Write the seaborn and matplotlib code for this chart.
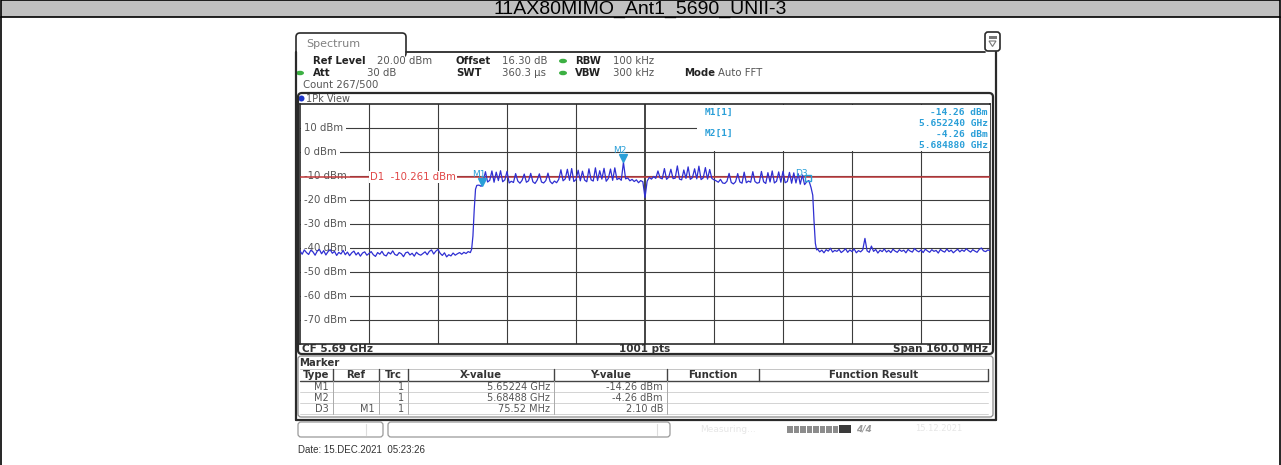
import matplotlib
matplotlib.use("Agg")
import matplotlib.pyplot as plt
import seaborn as sns
import pandas as pd
from matplotlib.patches import Rectangle, FancyBboxPatch, Ellipse, Circle, Polygon

# ---------------- data ----------------
title = "11AX80MIMO_Ant1_5690_UNII-3"
y_tick_dbm = [10, 0, -10, -20, -30, -40, -50, -60, -70]
x_grid_mhz = [5626, 5642, 5658, 5674, 5690, 5706, 5722, 5738, 5754]
d1_level = -10.261

noise_lo_mhz = [5610.0, 5610.5, 5611.0, 5611.5, 5612.0, 5612.5, 5613.0, 5613.5, 5614.0, 5614.5,
                5615.0, 5615.5, 5616.0, 5616.5, 5617.0, 5617.5, 5618.0, 5618.5, 5619.0, 5619.5,
                5620.0, 5620.5, 5621.0, 5621.5, 5622.0, 5622.5, 5623.0, 5623.5, 5624.0, 5624.5,
                5625.0, 5625.5, 5626.0, 5626.5, 5627.0, 5627.5, 5628.0, 5628.5, 5629.0, 5629.5,
                5630.0, 5630.5, 5631.0, 5631.5, 5632.0, 5632.5, 5633.0, 5633.5, 5634.0, 5634.5,
                5635.0, 5635.5, 5636.0, 5636.5, 5637.0, 5637.5, 5638.0, 5638.5, 5639.0, 5639.5,
                5640.0, 5640.5, 5641.0, 5641.5, 5642.0, 5642.5, 5643.0, 5643.5, 5644.0, 5644.5,
                5645.0, 5645.5, 5646.0, 5646.5, 5647.0, 5647.5, 5648.0, 5648.5, 5649.0, 5649.5]
noise_lo_dbm = [-41.2, -42.6, -40.8, -41.9, -42.7, -40.9, -41.6, -43.0, -41.3, -40.6,
                -42.4, -41.1, -42.9, -41.5, -40.7, -42.2, -41.4, -43.1, -41.8, -42.5,
                -41.0, -42.8, -41.7, -43.2, -42.0, -41.3, -42.9, -41.9, -43.4, -42.1,
                -41.6, -43.0, -42.3, -41.5, -42.8, -43.5, -41.9, -42.6, -41.4, -42.9,
                -43.3, -41.8, -42.5, -41.2, -42.7, -43.1, -41.9, -42.4, -43.6, -42.0,
                -41.7, -42.9, -42.2, -43.4, -41.8, -42.6, -43.0, -42.3, -41.6, -42.8,
                -41.4, -40.8, -42.5, -41.3, -40.6, -42.2, -43.1, -42.0, -43.7, -42.8,
                -43.3, -42.1, -43.0, -42.4, -41.9, -42.6, -41.8, -42.3, -41.5, -41.9]
edge_lo_mhz = [5649.8, 5650.1, 5650.4, 5650.7, 5651.0]
edge_lo_dbm = [-40.5, -35.0, -24.0, -15.5, -13.9]

band_mhz = [5651.5, 5652.0, 5652.5, 5653.0, 5653.5, 5654.0, 5654.5, 5655.0, 5655.5, 5656.0,
            5656.5, 5657.0, 5657.5, 5658.0, 5658.5, 5659.0, 5659.5, 5660.0, 5660.5, 5661.0,
            5661.5, 5662.0, 5662.5, 5663.0, 5663.5, 5664.0, 5664.5, 5665.0, 5665.5, 5666.0,
            5666.5, 5667.0, 5667.5, 5668.0, 5668.5, 5669.0, 5669.5, 5670.0, 5670.5, 5671.0,
            5671.5, 5672.0, 5672.5, 5673.0, 5673.5, 5674.0, 5674.5, 5675.0, 5675.5, 5676.0,
            5676.5, 5677.0, 5677.5, 5678.0, 5678.5, 5679.0, 5679.5, 5680.0, 5680.5, 5681.0,
            5681.5, 5682.0, 5682.5, 5683.0, 5683.5, 5684.0, 5684.5, 5685.0, 5685.5, 5686.0,
            5686.5, 5687.0, 5687.5, 5688.0, 5688.5, 5689.0, 5689.5, 5690.0, 5690.5, 5691.0,
            5691.5, 5692.0, 5692.5, 5693.0, 5693.5, 5694.0, 5694.5, 5695.0, 5695.5, 5696.0,
            5696.5, 5697.0, 5697.5, 5698.0, 5698.5, 5699.0, 5699.5, 5700.0, 5700.5, 5701.0,
            5701.5, 5702.0, 5702.5, 5703.0, 5703.5, 5704.0, 5704.5, 5705.0, 5705.5, 5706.0,
            5706.5, 5707.0, 5707.5, 5708.0, 5708.5, 5709.0, 5709.5, 5710.0, 5710.5, 5711.0,
            5711.5, 5712.0, 5712.5, 5713.0, 5713.5, 5714.0, 5714.5, 5715.0, 5715.5, 5716.0,
            5716.5, 5717.0, 5717.5, 5718.0, 5718.5, 5719.0, 5719.5, 5720.0, 5720.5, 5721.0,
            5721.5, 5722.0, 5722.5, 5723.0, 5723.5, 5724.0, 5724.5, 5725.0, 5725.5, 5726.0,
            5726.5, 5727.0, 5727.5, 5728.0, 5728.5]
band_dbm = [-13.8, -14.3, -12.0, -8.2, -12.5, -11.8, -7.9, -12.6, -8.4, -11.9,
            -7.8, -12.4, -11.6, -8.1, -12.9, -12.2, -12.7, -9.0, -12.1, -13.0,
            -11.8, -9.2, -12.6, -12.0, -8.9, -12.4, -13.1, -11.7, -9.1, -12.5,
            -12.9, -11.9, -8.8, -12.3, -13.2, -12.1, -12.8, -11.4, -7.4, -12.0,
            -11.2, -7.2, -11.8, -6.9, -12.3, -11.5, -7.6, -12.0, -8.0, -11.7,
            -12.4, -7.0, -11.6, -12.1, -6.6, -11.9, -7.8, -11.3, -6.8, -12.2,
            -11.0, -7.1, -11.8, -6.6, -11.5, -10.9, -11.8, -4.3, -11.2, -10.8,
            -12.0, -11.4, -12.3, -11.6, -12.8, -11.9, -12.4, -19.0, -12.1, -10.6,
            -11.3, -10.2, -11.0, -7.9, -10.8, -11.2, -6.9, -11.4, -10.5, -7.2,
            -11.1, -10.9, -5.8, -11.3, -11.6, -7.5, -11.0, -6.2, -11.4, -10.7,
            -7.0, -11.2, -5.9, -11.5, -10.8, -6.5, -11.3, -7.3, -11.0, -11.6,
            -12.0, -12.6, -11.4, -12.9, -13.1, -12.2, -8.9, -12.7, -13.3, -12.4,
            -9.0, -12.5, -13.0, -8.4, -12.8, -12.1, -12.6, -8.2, -12.3, -13.0,
            -12.7, -8.1, -12.4, -13.1, -8.6, -12.5, -7.9, -12.9, -12.2, -8.3,
            -12.6, -8.0, -12.8, -12.3, -8.5, -13.0, -8.7, -12.9, -9.0, -13.4,
            -9.6, -13.6, -12.4, -11.9, -14.8]
edge_hi_mhz = [5728.9, 5729.2, 5729.5, 5729.8]
edge_hi_dbm = [-18.0, -29.0, -38.0, -40.8]
noise_hi_mhz = [5730.0, 5730.5, 5731.0, 5731.5, 5732.0, 5732.5, 5733.0, 5733.5, 5734.0, 5734.5,
                5735.0, 5735.5, 5736.0, 5736.5, 5737.0, 5737.5, 5738.0, 5738.5, 5739.0, 5739.5,
                5740.0, 5740.5, 5741.0, 5741.5, 5742.0, 5742.5, 5743.0, 5743.5, 5744.0, 5744.5,
                5745.0, 5745.5, 5746.0, 5746.5, 5747.0, 5747.5, 5748.0, 5748.5, 5749.0, 5749.5,
                5750.0, 5750.5, 5751.0, 5751.5, 5752.0, 5752.5, 5753.0, 5753.5, 5754.0, 5754.5,
                5755.0, 5755.5, 5756.0, 5756.5, 5757.0, 5757.5, 5758.0, 5758.5, 5759.0, 5759.5,
                5760.0, 5760.5, 5761.0, 5761.5, 5762.0, 5762.5, 5763.0, 5763.5, 5764.0, 5764.5,
                5765.0, 5765.5, 5766.0, 5766.5, 5767.0, 5767.5, 5768.0, 5768.5, 5769.0, 5769.5, 5770.0]
noise_hi_dbm = [-40.4, -41.6, -40.9, -42.0, -40.7, -41.3, -40.1, -41.7, -41.0, -41.4,
                -40.6, -41.9, -41.2, -40.3, -41.8, -40.8, -41.5, -40.4, -42.0, -41.1,
                -41.6, -40.7, -36.0, -41.2, -41.8, -39.2, -41.4, -40.6, -42.1, -40.9,
                -41.5, -40.4, -41.7, -41.0, -41.9, -40.5, -41.3, -41.8, -40.7, -41.4,
                -40.9, -42.0, -40.6, -41.3, -41.7, -40.2, -41.1, -41.6, -40.8, -41.9,
                -40.5, -41.2, -41.8, -40.7, -41.4, -41.0, -42.1, -40.6, -41.3, -41.7,
                -40.4, -41.5, -40.9, -42.0, -41.2, -40.5, -41.6, -40.8, -41.4, -40.3,
                -41.1, -41.7, -40.7, -41.3, -41.8, -40.6, -40.0, -41.2, -41.5, -40.8, -41.1]

marker_names = ["M1", "M2"]
marker_mhz = [5652.24, 5684.88]
marker_dbm = [-14.26, -4.26]
d3_mhz = 5727.76
d3_dbm = -12.16

table_cols = ["Type", "Ref", "Trc", "X-value", "Y-value", "Function", "Function Result"]
table_rows = [["M1", "", "1", "5.65224 GHz", "-14.26 dBm"],
              ["M2", "", "1", "5.68488 GHz", "-4.26 dBm"],
              ["D3", "M1", "1", "75.52 MHz", "2.10 dB"]]

# ---------------- figure ----------------
sns.set_style("white")
plt.rcParams['font.family'] = ['DejaVu Sans']

W, H = 1281, 465
fig = plt.figure(figsize=(W / 100, H / 100), dpi=100)
fig.patch.set_facecolor("white")

bg = fig.add_axes([0, 0, 1, 1], zorder=0)
bg.set_xlim(0, W); bg.set_ylim(H, 0); bg.axis("off")

X0, X1, Y0, Y1 = 300, 990, 104, 344
ax = fig.add_axes([X0 / W, 1 - Y1 / H, (X1 - X0) / W, (Y1 - Y0) / H], zorder=1)

ov = fig.add_axes([0, 0, 1, 1], zorder=2)
ov.set_xlim(0, W); ov.set_ylim(H, 0); ov.axis("off"); ov.patch.set_alpha(0)

DARK = "#2a2a2a"
GREY_TXT = "#555555"
BLUE_M = "#2a9fd8"

# page frame + title
bg.add_patch(Rectangle((0.5, 0.5), W - 1.5, 17, facecolor="#c0c0c0", edgecolor="black", lw=1.2))
bg.plot([0.5, 0.5], [17, H], color="black", lw=1.2)
bg.plot([W - 1, W - 1], [17, H], color="black", lw=1.2)
bg.text(640, 14.2, title, ha="center", va="baseline", fontsize=14,
        family=["Liberation Sans", "DejaVu Sans"], color="black")

# screen outline: tab
tab = FancyBboxPatch((296, 33), 110, 24, boxstyle="round,pad=0,rounding_size=4",
                     facecolor="white", edgecolor=DARK, lw=1.2)
bg.add_patch(tab)
bg.add_patch(Rectangle((297, 52.5), 108, 6, facecolor="white", edgecolor="none"))
bg.text(306, 44, "Spectrum", fontsize=8, color="#808080", va="center")
bg.plot([406, 985], [52.5, 52.5], color=DARK, lw=1.3)
bg.add_patch(FancyBboxPatch((985, 32), 15, 19, boxstyle="round,pad=0,rounding_size=3",
                            facecolor="white", edgecolor=DARK, lw=1.2))
bg.add_patch(Rectangle((988.5, 36), 8, 3, facecolor="#777777", edgecolor="none"))
bg.add_patch(Polygon([[989, 41], [996, 41], [992.5, 46.5]], closed=True,
                     facecolor="white", edgecolor="#777777", lw=0.8))
bg.plot([296, 296], [52, 420], color=DARK, lw=1.6)
bg.plot([996, 996], [52, 420], color=DARK, lw=1.6)
bg.plot([296, 996], [419.5, 419.5], color=DARK, lw=1.6)

# header settings text
FS = 7.3
def hdr(x, y, s, bold=False, color=None, **kw):
    bg.text(x, y, s, fontsize=FS, va="center", ha=kw.pop("ha", "left"),
            fontweight="bold" if bold else "normal",
            color=color or ("#222222" if bold else GREY_TXT), **kw)

hdr(313, 61, "Ref Level", bold=True); hdr(377, 61, "20.00 dBm")
hdr(456, 61, "Offset", bold=True); hdr(502, 61, "16.30 dB")
hdr(575, 61, "RBW", bold=True); hdr(613, 61, "100 kHz")
hdr(313, 73, "Att", bold=True); hdr(396, 73, "30 dB", ha="right")
hdr(456, 73, "SWT", bold=True); hdr(502, 73, "360.3 µs")
hdr(575, 73, "VBW", bold=True); hdr(613, 73, "300 kHz")
hdr(684, 73, "Mode", bold=True); hdr(718, 73, "Auto FFT")
hdr(303, 85, "Count 267/500")
for (ex, ey) in [(563, 61), (563, 73), (300, 73)]:
    bg.add_patch(Ellipse((ex, ey), 8, 4.5, facecolor="#3cb043", edgecolor="none"))

# diagram frame
ov.add_patch(FancyBboxPatch((298, 93), 695, 261, boxstyle="round,pad=0,rounding_size=4",
                            facecolor="none", edgecolor=DARK, lw=1.6))
bg.add_patch(Circle((301.5, 98.5), 3, facecolor="#1d35c8", edgecolor="none"))
bg.text(306, 98.5, "1Pk View", fontsize=7, color=GREY_TXT, va="center")
bg.text(302, 348.5, "CF 5.69 GHz", fontsize=7.5, fontweight="bold", color="#333333", va="center")
bg.text(645, 348.5, "1001 pts", fontsize=7.5, fontweight="bold", color="#333333", va="center", ha="center")
bg.text(988, 348.5, "Span 160.0 MHz", fontsize=7.5, fontweight="bold", color="#333333", va="center", ha="right")

# ---------------- spectrum axes ----------------
ax.set_xlim(5610, 5770)
ax.set_ylim(-80, 20)
ax.set_facecolor("white")
for sp in ax.spines.values():
    sp.set_color(DARK); sp.set_linewidth(1.2)

GRID = "#3c3c3c"
for xv in x_grid_mhz:
    ax.axvline(xv, color="#111111" if xv == 5690 else GRID,
               lw=1.1 if xv == 5690 else 0.8, zorder=1)
for yv in y_tick_dbm:
    ax.axhline(yv, color=GRID, lw=0.8, zorder=1)
    ax.text(4 / 690, yv, f"{yv} dBm", transform=ax.get_yaxis_transform(),
            fontsize=7.3, color=GREY_TXT, va="center", ha="left", zorder=2,
            bbox=dict(boxstyle="square,pad=0.3", facecolor="white", edgecolor="none"))

ax.axhline(d1_level, color="#c0393b", lw=1.1, zorder=3)
ax.text(5626.3, d1_level, "D1  -10.261 dBm", fontsize=7.3, color="#e04545", va="center",
        ha="left", zorder=3.5,
        bbox=dict(boxstyle="square,pad=0.1", facecolor="white", edgecolor="none"))

trace = pd.DataFrame({
    "freq": noise_lo_mhz + edge_lo_mhz + band_mhz + edge_hi_mhz + noise_hi_mhz,
    "level": noise_lo_dbm + edge_lo_dbm + band_dbm + edge_hi_dbm + noise_hi_dbm,
})
sns.lineplot(data=trace, x="freq", y="level", ax=ax, color="#2f2fd2", lw=0.9,
             estimator=None, sort=False, zorder=4, legend=False)
ax.set_xlabel(""); ax.set_ylabel("")
ax.set_xticks([]); ax.set_yticks([])

for name, mx, my in zip(marker_names, marker_mhz, marker_dbm):
    ax.plot([mx], [my + 1.6], marker="v", ms=5.5, color=BLUE_M, zorder=5, ls="none")
    ax.text(mx - 0.8, my + 4.7, name, fontsize=6.5, color=BLUE_M, ha="center", va="center", zorder=5)
ax.plot([d3_mhz], [d3_dbm + 1.2], marker="s", ms=4, mfc="none", mec=BLUE_M, zorder=5, ls="none")
ax.text(d3_mhz - 1.5, d3_dbm + 3.0, "D3", fontsize=6.5, color=BLUE_M, ha="center", va="center", zorder=5)

# marker info box (overlay)
ov.add_patch(Rectangle((697, 104.8), 292.5, 46.5, facecolor="white", edgecolor="none"))
MF = dict(fontsize=6.8, color=BLUE_M, fontweight="bold", va="center",
          family=["DejaVu Sans Mono"])
ov.text(705, 112, "M1[1]", ha="left", **MF)
ov.text(988, 112, "-14.26 dBm", ha="right", **MF)
ov.text(988, 123, "5.652240 GHz", ha="right", **MF)
ov.text(705, 133, "M2[1]", ha="left", **MF)
ov.text(988, 134, "-4.26 dBm", ha="right", **MF)
ov.text(988, 145, "5.684880 GHz", ha="right", **MF)

# ---------------- marker table ----------------
bg.add_patch(FancyBboxPatch((298, 356), 695, 61, boxstyle="round,pad=0,rounding_size=3",
                            facecolor="white", edgecolor="#8a8a8a", lw=0.9))
bg.text(299, 362.5, "Marker", fontsize=7.3, fontweight="bold", color="#333333", va="center")
col_sep = [333, 379, 408, 554, 667, 759, 988]
col_left = [300] + col_sep[:-1]
bg.plot([300, 988], [369, 369], color="#bbbbbb", lw=0.6)
bg.plot([300, 988], [380.5, 380.5], color="#444444", lw=1.0)
for yy in [391.5, 402.5, 413.5]:
    bg.plot([300, 988], [yy, yy], color="#cccccc", lw=0.6)
for i, xs in enumerate(col_sep):
    bg.plot([xs, xs], [369, 380.5], color="#444444", lw=1.0)
    if i < 5:
        bg.plot([xs, xs], [380.5, 413.5], color="#aaaaaa", lw=0.7)
for i, c in enumerate(table_cols):
    bg.text((col_left[i] + col_sep[i]) / 2, 375, c, fontsize=7.3, fontweight="bold",
            color="#333333", ha="center", va="center")
row_y = [386.5, 397.5, 408.5]
for r, row in enumerate(table_rows):
    for i, v in enumerate(row):
        if v:
            bg.text(col_sep[i] - 4, row_y[r], v, fontsize=7, color=GREY_TXT,
                    ha="right", va="center")

# ---------------- status bar ----------------
bg.add_patch(FancyBboxPatch((298, 422), 85, 15, boxstyle="round,pad=0,rounding_size=3",
                            facecolor="white", edgecolor="#9a9a9a", lw=0.9))
bg.plot([366, 366], [424, 435], color="#dddddd", lw=0.8)
bg.add_patch(FancyBboxPatch((388, 422), 282, 15, boxstyle="round,pad=0,rounding_size=3",
                            facecolor="white", edgecolor="#9a9a9a", lw=0.9))
bg.plot([657, 657], [424, 435], color="#dddddd", lw=0.8)
bg.text(700, 429, "Measuring...", fontsize=6.5, color="#e6e6e6", va="center")
for k in range(8):
    bg.add_patch(Rectangle((787 + k * 6.5, 425.5), 5.5, 7, facecolor="#8c8c8c", edgecolor="none"))
bg.add_patch(Rectangle((839, 425), 12, 8, facecolor="#3a3a3a", edgecolor="none"))
bg.text(856, 429, "4/4", fontsize=6.5, color="#9a9a9a", va="center", style="italic", fontweight="bold")
bg.text(915, 428, "15.12.2021", fontsize=6, color="#e6e6e6", va="center")

bg.text(298, 450, "Date: 15.DEC.2021  05:23:26", fontsize=7, color="#333333", va="center",
        family=["Liberation Sans", "DejaVu Sans"])

fig.savefig("out.png", dpi=100, facecolor="white")
